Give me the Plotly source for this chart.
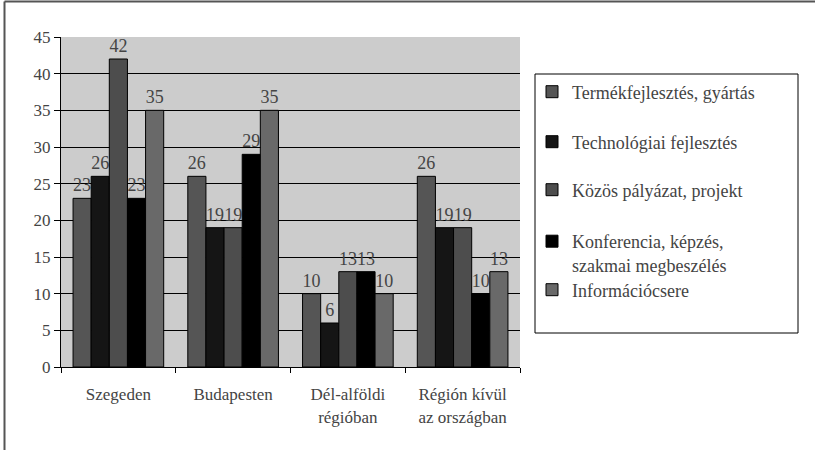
import plotly.graph_objects as go

categories = ["Szegeden", "Budapesten", "Dél-alföldi<br>régióban", "Régión kívül<br>az országban"]
series_names = [
    "Termékfejlesztés, gyártás",
    "Technológiai fejlesztés",
    "Közös pályázat, projekt",
    "Konferencia, képzés,<br>szakmai megbeszélés",
    "Információcsere",
]
termek = [23, 26, 10, 26]
technologiai = [26, 19, 6, 19]
kozos = [42, 19, 13, 19]
konferencia = [23, 29, 13, 10]
informacio = [35, 35, 10, 13]
series_values = [termek, technologiai, kozos, konferencia, informacio]
colors = ["#555555", "#151515", "#4d4d4d", "#000000", "#696969"]
y_ticks = [0, 5, 10, 15, 20, 25, 30, 35, 40, 45]

FONT = "Liberation Serif"
W, H = 815, 450
L, R, T, B = 61, 295, 37, 83
pw, ph = W - L - R, H - T - B

def px_x(px):
    return (px - L) / pw

def px_y(py):
    return (H - B - py) / ph

legend_centers = [92, 142, 190, 253, 290]

fig = go.Figure()
for i, (name, vals, col) in enumerate(zip(series_names, series_values, colors)):
    lname = "legend" if i == 0 else f"legend{i+1}"
    fig.add_trace(go.Bar(
        x=categories, y=vals, name=name,
        marker=dict(color=col, line=dict(color="#000000", width=1)),
        text=[str(v) for v in vals], textposition="outside",
        textfont=dict(family=FONT, size=18),
        constraintext="none", cliponaxis=False,
        legend=lname,
    ))

layout_legends = {}
for i, cy in enumerate(legend_centers):
    key = "legend" if i == 0 else f"legend{i+1}"
    d = dict(
        xref="container", yref="container", xanchor="left", yanchor="middle",
        x=532 / W, y=1 - cy / H,
        bgcolor="rgba(0,0,0,0)", borderwidth=0,
        font=dict(family=FONT, size=18),
    )
    if i == 3:
        d["valign"] = "top"
    layout_legends[key] = d

fig.update_layout(
    template="none",
    width=W, height=H, autosize=False,
    margin=dict(l=L, r=R, t=T, b=B, pad=0),
    paper_bgcolor="#ffffff", plot_bgcolor="#cccccc",
    barmode="group", bargap=0.21, bargroupgap=0,
    showlegend=True,
    font=dict(family=FONT, size=17),
    xaxis=dict(
        type="category", tickson="boundaries", ticks="outside", ticklen=5,
        tickcolor="#000000", showline=True, linecolor="#000000", linewidth=1,
        showgrid=False, tickfont=dict(family=FONT, size=17),
        ticklabelstandoff=12,
    ),
    yaxis=dict(
        range=[0, 45], tickvals=y_ticks, ticks="outside", ticklen=6,
        tickcolor="#000000", showline=True, linecolor="#000000", linewidth=1,
        showgrid=True, gridcolor="#000000", gridwidth=1, zeroline=False,
        tickfont=dict(family=FONT, size=17),
    ),
    shapes=[
        dict(type="rect", xref="paper", yref="paper",
             x0=px_x(535), x1=px_x(798), y0=px_y(333), y1=px_y(74),
             line=dict(color="#000000", width=1), fillcolor="rgba(0,0,0,0)"),
        dict(type="line", xref="paper", yref="paper",
             x0=px_x(4.5), x1=px_x(W), y0=px_y(1.5), y1=px_y(1.5),
             line=dict(color="#555555", width=2)),
        dict(type="line", xref="paper", yref="paper",
             x0=px_x(4.5), x1=px_x(4.5), y0=px_y(1.5), y1=px_y(H),
             line=dict(color="#555555", width=2)),
    ],
    **layout_legends,
)

fig.write_html(
    "out.html",
    config={"displayModeBar": False},
    post_script="document.body.style.margin='0';document.body.style.overflow='hidden';",
)
